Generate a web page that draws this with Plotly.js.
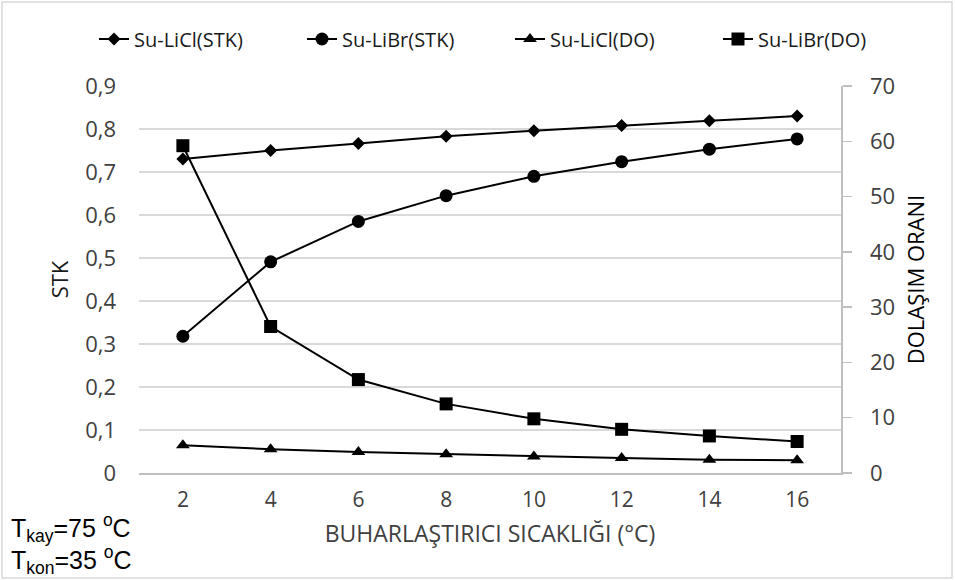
<!DOCTYPE html>
<html>
<head>
<meta charset="utf-8">
<script src="https://cdn.plot.ly/plotly-3.0.1.min.js"></script>
<style>html,body{margin:0;padding:0;background:#fff;}#chart{width:955px;height:580px;}</style>
</head>
<body>
<div id="chart"></div>
<script>
// Data
const categories = ['2', '4', '6', '8', '10', '12', '14', '16'];
const stkLiCl = [0.730, 0.750, 0.766, 0.783, 0.796, 0.808, 0.819, 0.830];
const stkLiBr = [0.318, 0.491, 0.585, 0.645, 0.690, 0.724, 0.753, 0.777];
const doLiCl = [5.0, 4.3, 3.8, 3.4, 3.0, 2.7, 2.4, 2.3];
const doLiBr = [59.2, 26.5, 16.9, 12.5, 9.8, 7.9, 6.7, 5.7];
const seriesNames = ['Su-LiCl(STK)', 'Su-LiBr(STK)', 'Su-LiCl(DO)', 'Su-LiBr(DO)'];
const yLeftTitle = 'STK';
const yRightTitle = 'DOLAŞIM ORANI';
const xTitle = 'BUHARLAŞTIRICI SICAKLIĞI (°C)';
const noteLines = ['T<sub>kay</sub>=75 <sup>o</sup>C', 'T<sub>kon</sub>=35 <sup>o</sup>C'];

const lineStyle = {color: '#000000', width: 2};
const traces = [
  {x: categories, y: stkLiCl, name: seriesNames[0], yaxis: 'y', type: 'scatter', mode: 'lines+markers',
   line: lineStyle, marker: {symbol: 'diamond', size: 10, color: '#000'}},
  {x: categories, y: stkLiBr, name: seriesNames[1], yaxis: 'y', type: 'scatter', mode: 'lines+markers',
   line: lineStyle, marker: {symbol: 'circle', size: 13, color: '#000'}},
  {x: categories, y: doLiCl, name: seriesNames[2], yaxis: 'y2', type: 'scatter', mode: 'lines+markers',
   line: lineStyle, marker: {symbol: 'triangle-up', size: 12, color: '#000'}},
  {x: categories, y: doLiBr, name: seriesNames[3], yaxis: 'y2', type: 'scatter', mode: 'lines+markers',
   line: lineStyle, marker: {symbol: 'square', size: 13, color: '#000'}}
];

const txt = '#404040';
const fnt = 'Open Sans, Noto Sans, sans-serif';
const layout = {
  width: 955, height: 580,
  margin: {l: 139, r: 114, t: 86, b: 107},
  paper_bgcolor: '#ffffff', plot_bgcolor: '#ffffff',
  separators: ', ',
  font: {family: fnt, color: txt, size: 20},
  showlegend: true,
  legend: {orientation: 'h', x: (94 - 139) / 702, xanchor: 'left', y: (473 - 39) / 387, yanchor: 'middle',
           font: {family: fnt, size: 20, color: '#1a1a1a'}, entrywidth: 163, traceorder: 'normal',
           bgcolor: 'rgba(0,0,0,0)'},
  xaxis: {type: 'category', range: [-0.5, 7.5], showgrid: false, zeroline: false,
          showline: true, linecolor: '#bfbfbf', linewidth: 1.5, ticks: '',
          ticklabelstandoff: 7,
          tickfont: {family: fnt, size: 21, color: txt},
          title: {text: xTitle, font: {family: fnt, size: 23, color: txt}, standoff: 14}},
  yaxis: {range: [0, 0.9], dtick: 0.1, tick0: 0, showgrid: true, gridcolor: '#d9d9d9', gridwidth: 1.5,
          zeroline: false, showline: false, ticks: '', ticklabelstandoff: 22,
          tickfont: {family: fnt, size: 22, color: txt},
          title: {text: yLeftTitle, font: {family: fnt, size: 22, color: '#1a1a1a'}, standoff: 10}},
  yaxis2: {range: [0, 70], dtick: 10, tick0: 0, overlaying: 'y', side: 'right', showgrid: false,
           zeroline: false, showline: true, linecolor: '#bfbfbf', linewidth: 1.5,
           ticks: 'outside', ticklen: 9, tickcolor: '#bfbfbf', tickwidth: 1.5, ticklabelstandoff: 14,
           tickfont: {family: fnt, size: 22, color: txt},
           title: {text: yRightTitle, font: {family: fnt, size: 22, color: '#000'}, standoff: 14}},
  shapes: [{type: 'rect', xref: 'paper', yref: 'paper',
            x0: (2 - 139) / 702, x1: (952 - 139) / 702, y0: (473 - 578) / 387, y1: (473 - 2) / 387,
            line: {color: '#d9d9d9', width: 1.5}, fillcolor: 'rgba(0,0,0,0)', layer: 'below'}],
  annotations: noteLines.map((t, i) => ({
    text: t, xref: 'paper', yref: 'paper', x: (9 - 139) / 702, xanchor: 'left',
    y: (473 - (528 + i * 32)) / 387, yanchor: 'middle', showarrow: false,
    font: {family: 'Liberation Sans, Arial, sans-serif', size: 25, color: '#000'}
  }))
};

Plotly.newPlot('chart', traces, layout, {displayModeBar: false, staticPlot: true});
</script>
</body>
</html>
